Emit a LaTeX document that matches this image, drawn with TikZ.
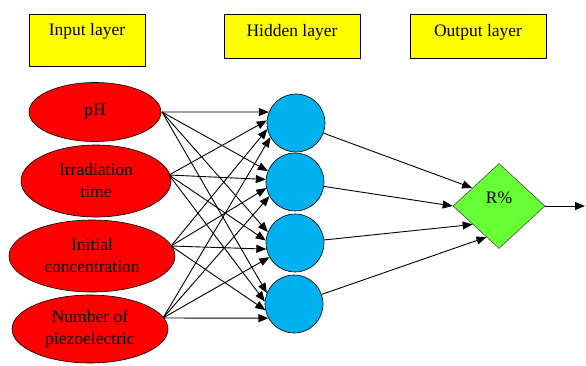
\documentclass[tikz,border=0pt]{standalone}
\usepackage{fontspec}
\setmainfont{Liberation Serif}
\usetikzlibrary{shapes.geometric,arrows.meta}
\definecolor{boxyellow}{RGB}{255,255,0}
\definecolor{inred}{RGB}{255,0,0}
\definecolor{hidblue}{RGB}{0,176,240}
\definecolor{outgreen}{RGB}{102,255,51}
\tikzset{
  txt/.style={font=\fontsize{17.5}{22}\selectfont, align=center, inner sep=0pt},
  layerbox/.style={draw=black, line width=1pt, fill=boxyellow, inner sep=0pt},
  inputnode/.style={ellipse, draw=black, line width=0.6pt, fill=inred, inner sep=0pt,
                    font=\fontsize{17.5}{22}\selectfont, align=center},
  hiddennode/.style={circle, draw=black, line width=0.6pt, fill=hidblue, inner sep=0pt,
                     minimum size=58pt},
  outnode/.style={diamond, draw=black!70, line width=0.6pt, fill=outgreen, inner sep=0pt,
                  minimum width=92pt, minimum height=85pt},
  arr/.style={-{Triangle[length=10pt,width=8pt]}, line width=0.9pt, black},
}
\begin{document}
\begin{tikzpicture}[x=1pt, y=-1pt]
\useasboundingbox (0,0) rectangle (586,365);

% layer title boxes
\node[layerbox, minimum width=116pt, minimum height=52pt] (inbox)  at (87,40)  {};
\node[txt] (intitle)  at (87,31)  {Input layer};
\node[layerbox, minimum width=136pt, minimum height=44pt] (hidbox) at (292,36) {};
\node[txt] (hidtitle) at (292,32) {Hidden layer};
\node[layerbox, minimum width=136pt, minimum height=44pt] (outbox) at (478,36) {};
\node[txt] (outtitle) at (478,32) {Output layer};

% input layer
\node[inputnode, minimum width=132pt, minimum height=59pt] (e1) at (95,112) {pH};
\node[inputnode, minimum width=150pt, minimum height=72pt] (e2) at (96,181) {Irradiation\\time};
\node[inputnode, minimum width=166pt, minimum height=72pt] (e3) at (92,256) {Initial\\concentration};
\node[inputnode, minimum width=156pt, minimum height=68pt] (e4) at (90,329) {Number of\\piezoelectric};

% points where the connections leave each input
\coordinate (s1) at (162,112);
\coordinate (s2) at (169,175);
\coordinate (s3) at (171,246);
\coordinate (s4) at (163,318);

% hidden layer
\node[hiddennode] (c1) at (296,123) {};
\node[hiddennode] (c2) at (295,182) {};
\node[hiddennode] (c3) at (295,243) {};
\node[hiddennode] (c4) at (294,304) {};

% output node
\node[outnode] (d) at (499,206) {};
\node[txt] (rlabel) at (499,198) {R\%};
\coordinate (out) at (585,206);

% input -> hidden (fully connected)
\foreach \i/\a in {1/158,2/175,3/192,4/209}
  \foreach \j in {1,...,4}
    \draw[arr] (s\i) -- (c\j.\a);

% hidden -> output
\draw[arr] (c1) -- (d.146);
\draw[arr] (c2) -- (d.west);
\draw[arr] (c3) -- (d.215);
\draw[arr] (c4) -- (d.248);
\draw[arr] (d.east) -- (out);
\end{tikzpicture}
\end{document}
